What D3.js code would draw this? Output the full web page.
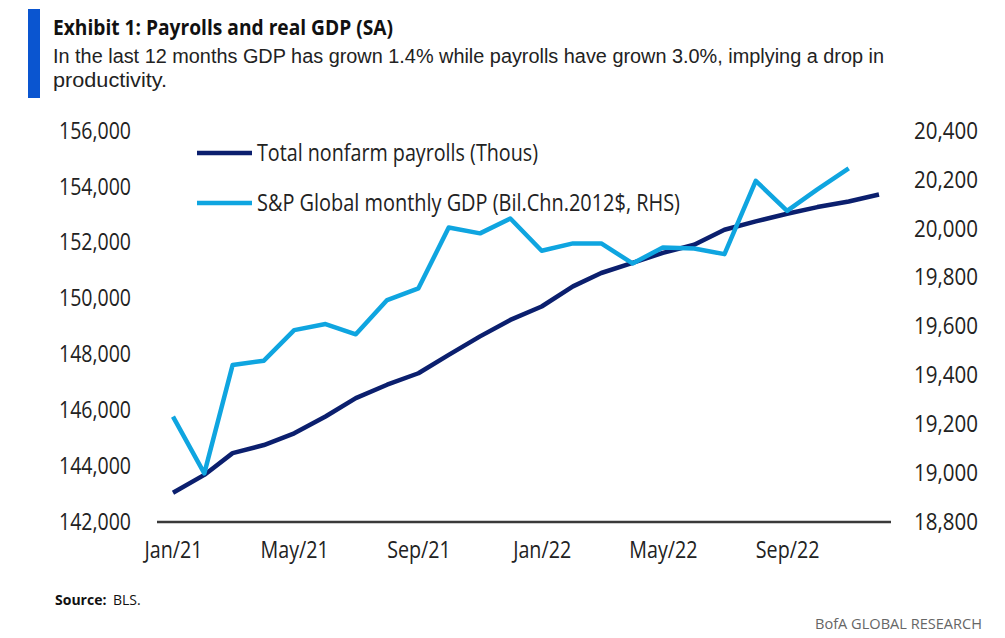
<!DOCTYPE html>
<html>
<head>
<meta charset="utf-8">
<script src="https://cdn.jsdelivr.net/npm/d3@7"></script>
<style>
  body { margin: 0; background: #fff; }
  svg text { font-family: "Open Sans", "Liberation Sans", sans-serif; }
</style>
</head>
<body>
<svg id="chart" width="1005" height="638"></svg>
<script>
// monthly data, Jan/21 .. Dec/22
var months = ["2021-01","2021-02","2021-03","2021-04","2021-05","2021-06","2021-07","2021-08","2021-09","2021-10","2021-11","2021-12",
              "2022-01","2022-02","2022-03","2022-04","2022-05","2022-06","2022-07","2022-08","2022-09","2022-10","2022-11","2022-12"];
// total nonfarm payrolls (thous), left axis
var payrolls = [143010, 143650, 144430, 144720, 145140, 145740, 146400, 146880, 147290, 147950, 148610, 149200,
                149680, 150400, 150880, 151240, 151600, 151890, 152430, 152730, 153000, 153240, 153440, 153690];
// S&P Global monthly GDP (bil. chn. 2012$), right axis - ends Nov/22
var gdp = [19227, 18995, 19438, 19456, 19581, 19606, 19564, 19704, 19752, 20001, 19977, 20038,
           19906, 19936, 19936, 19854, 19919, 19915, 19892, 20192, 20069, 20157, 20243];
var leftTicks = [142000, 144000, 146000, 148000, 150000, 152000, 154000, 156000];
var rightTicks = [18800, 19000, 19200, 19400, 19600, 19800, 20000, 20200, 20400];
var xTicks = ["2021-01","2021-05","2021-09","2022-01","2022-05","2022-09"];

var navy = "#0b1f6e", sky = "#0fa5e0";
var svg = d3.select("#chart");
var parse = d3.timeParse("%Y-%m");

// squeeze text horizontally so it looks like the condensed house font
// k = target width / natural width of the first element
function condense(sel, target)
{
	var k = target / sel.node().getComputedTextLength();
	sel.each(function() {
		var w = this.getComputedTextLength();
		d3.select(this).attr("textLength", w * k).attr("lengthAdjust", "spacingAndGlyphs");
	});
}

var x = d3.scaleTime()
	.domain([parse("2021-01"), parse("2022-12")])
	.range([173, 879]);
var yL = d3.scaleLinear().domain([142000, 156000]).range([521, 130]);
var yR = d3.scaleLinear().domain([18800, 20400]).range([521, 130]);

// header
svg.append("rect").attr("x", 28).attr("y", 9).attr("width", 12).attr("height", 89).attr("fill", "#0a55d0");
condense(svg.append("text").attr("x", 53).attr("y", 35)
	.attr("font-size", 21).attr("font-weight", "bold").attr("fill", "#111")
	.text("Exhibit 1: Payrolls and real GDP (SA)"), 340);
var sub = svg.append("g").style("font-family", "'Liberation Sans', sans-serif");
condense(sub.append("text").attr("x", 53).attr("y", 63)
	.attr("font-size", 20).attr("fill", "#222")
	.style("font-family", "'Liberation Sans', sans-serif")
	.text("In the last 12 months GDP has grown 1.4% while payrolls have grown 3.0%, implying a drop in"), 831);
condense(sub.append("text").attr("x", 53).attr("y", 87)
	.attr("font-size", 20).attr("fill", "#222")
	.style("font-family", "'Liberation Sans', sans-serif")
	.text("productivity."), 114);

// left axis labels
var axL = svg.append("g").attr("transform", "translate(131,0)")
	.call(d3.axisLeft(yL).tickValues(leftTicks).tickSize(0).tickPadding(0).tickFormat(d3.format(",")));
axL.select(".domain").remove();
axL.selectAll("text").attr("font-size", 23).attr("fill", "#222").attr("dy", "0.36em");
condense(axL.selectAll("text"), 72);

// right axis labels
var axR = svg.append("g").attr("transform", "translate(914,0)")
	.call(d3.axisRight(yR).tickValues(rightTicks).tickSize(0).tickPadding(0).tickFormat(d3.format(",")));
axR.select(".domain").remove();
axR.selectAll("text").attr("font-size", 23).attr("fill", "#222").attr("dy", "0.36em");
condense(axR.selectAll("text"), 64);

// x axis
var axX = svg.append("g").attr("transform", "translate(0,522)")
	.call(d3.axisBottom(x).tickValues(xTicks.map(parse)).tickSize(0).tickPadding(20).tickFormat(d3.timeFormat("%b/%y")));
axX.select(".domain").remove();
axX.selectAll("text").attr("font-size", 23).attr("fill", "#222");
condense(axX.selectAll("text"), 58);
svg.append("line").attr("x1", 157).attr("x2", 891).attr("y1", 522).attr("y2", 522)
	.attr("stroke", "#3a3a3a").attr("stroke-width", 2.5);

// lines
var lineL = d3.line().x(function(d, i) { return x(parse(months[i])); }).y(function(d) { return yL(d); });
var lineR = d3.line().x(function(d, i) { return x(parse(months[i])); }).y(function(d) { return yR(d); });

svg.append("path").datum(payrolls).attr("d", lineL)
	.attr("fill", "none").attr("stroke", navy).attr("stroke-width", 4.5).attr("stroke-linejoin", "round");
svg.append("path").datum(gdp).attr("d", lineR)
	.attr("fill", "none").attr("stroke", sky).attr("stroke-width", 4.5).attr("stroke-linejoin", "round");

// legend
var legend = [
	{label: "Total nonfarm payrolls (Thous)", color: navy, y: 153, w: 281},
	{label: "S&P Global monthly GDP (Bil.Chn.2012$, RHS)", color: sky, y: 203, w: 423}
];
legend.forEach(function(l) {
	svg.append("line").attr("x1", 197).attr("x2", 252).attr("y1", l.y).attr("y2", l.y)
		.attr("stroke", l.color).attr("stroke-width", 4.5);
	condense(svg.append("text").attr("x", 257).attr("y", l.y).attr("dy", "0.36em")
		.attr("font-size", 23).attr("fill", "#222")
		.text(l.label), l.w);
});

// footer
var src = svg.append("text").attr("x", 55).attr("y", 605).attr("font-size", 14).attr("fill", "#111");
src.append("tspan").attr("font-weight", "bold").text("Source:");
src.append("tspan").attr("x", 113).text("BLS.");
condense(svg.append("text").attr("x", 815).attr("y", 629)
	.attr("font-size", 15).attr("fill", "#666")
	.text("BofA GLOBAL RESEARCH"), 167);
</script>
</body>
</html>
